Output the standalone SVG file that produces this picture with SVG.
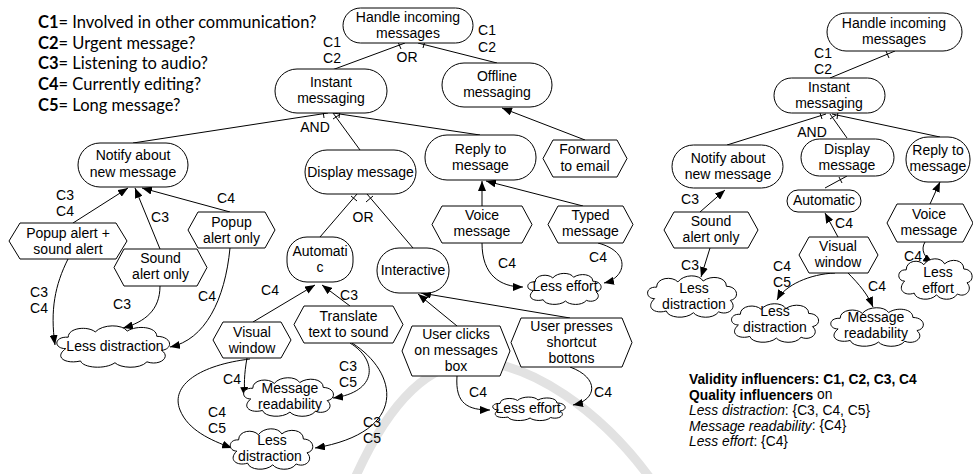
<svg xmlns="http://www.w3.org/2000/svg" xmlns:xlink="http://www.w3.org/1999/xlink" width="973" height="474" viewBox="0 0 973 474">
<style>
text{font-family:"Liberation Sans",Arial,sans-serif;font-size:14px;fill:#000;text-anchor:middle;dominant-baseline:central}
.leg{font-family:Lato,"Liberation Sans",sans-serif;font-size:16.5px;text-anchor:start}
.info{font-size:13.8px;text-anchor:start}
.goal{fill:#fff;stroke:#000;stroke-width:1}
.task{fill:#fff;stroke:#000;stroke-width:1}
.ln{fill:none;stroke:#000;stroke-width:1}
.ar{fill:none;stroke:#000;stroke-width:1;marker-end:url(#ah)}
.wm{fill:none;stroke:#e2e2e2;stroke-width:9;stroke-linecap:round}
</style>
<defs>
<marker id="ah" markerUnits="userSpaceOnUse" markerWidth="11" markerHeight="8" refX="10" refY="4" orient="auto"><path d="M0,0 L10,4 L0,8 Z" fill="#000"/></marker>
<symbol id="cloud" viewBox="0 0 100 50" preserveAspectRatio="none" overflow="visible">
<path vector-effect="non-scaling-stroke" d="M12,28 C2,28 2,14 14,15 C14,4 30,2 36,9 C42,0 58,0 62,8 C70,1 86,3 86,14 C98,14 100,28 90,30 C98,38 88,48 78,43 C72,52 56,50 52,44 C44,52 26,50 24,42 C12,46 2,38 12,28 Z" fill="#fff" stroke="#000" stroke-width="1"/>
</symbol>
</defs>
<rect width="973" height="474" fill="#fff"/>
<path class="wm" d="M355,478 C390,400 430,362 475,362 C530,362 600,410 650,478"/>

<g id="legend">
<text class="leg" x="38" y="22"><tspan font-weight="bold">C1</tspan>= Involved in other communication?</text>
<text class="leg" x="38" y="43"><tspan font-weight="bold">C2</tspan>= Urgent message?</text>
<text class="leg" x="38" y="63"><tspan font-weight="bold">C3</tspan>= Listening to audio?</text>
<text class="leg" x="38" y="84"><tspan font-weight="bold">C4</tspan>= Currently editing?</text>
<text class="leg" x="38" y="105"><tspan font-weight="bold">C5</tspan>= Long message?</text>
</g>

<g id="connectors">
<!-- left diagram -->
<line class="ln" x1="405" y1="43" x2="332" y2="70"/>
<line class="ln" x1="398" y1="42" x2="401" y2="49"/>
<line class="ln" x1="418" y1="43" x2="497" y2="63"/>
<line class="ln" x1="425" y1="41" x2="423" y2="48"/>
<line class="ar" x1="585" y1="140" x2="502" y2="108"/>
<line class="ln" x1="328" y1="113" x2="133" y2="143"/>
<line class="ln" x1="323" y1="111" x2="324" y2="118"/>
<line class="ln" x1="333" y1="113" x2="360" y2="150"/>
<line class="ln" x1="333" y1="119" x2="339" y2="115"/>
<line class="ln" x1="333" y1="113" x2="480" y2="135"/>
<line class="ln" x1="340" y1="111" x2="339" y2="118"/>
<line class="ln" x1="357" y1="194" x2="320" y2="237"/>
<line class="ln" x1="351" y1="196" x2="357" y2="201"/>
<line class="ln" x1="367" y1="194" x2="413" y2="248"/>
<line class="ln" x1="366" y1="202" x2="373" y2="196"/>
<line class="ar" x1="482" y1="206" x2="482" y2="181"/>
<line class="ar" x1="583" y1="206" x2="486" y2="181"/>
<path class="ar" d="M482,243 C482,275 500,287 523,287"/>
<path class="ar" d="M598,243 C632,252 626,278 604,283"/>
<line class="ar" x1="457" y1="326" x2="418" y2="294"/>
<line class="ar" x1="570" y1="318" x2="421" y2="293"/>
<path class="ar" d="M457,376 C455,404 468,410 490,410"/>
<path class="ar" d="M570,367 C600,378 597,400 573,405"/>
<line class="ar" x1="73" y1="223" x2="128" y2="188"/>
<line class="ar" x1="160" y1="249" x2="135" y2="188"/>
<line class="ar" x1="230" y1="212" x2="142" y2="188"/>
<path class="ar" d="M68,259 C55,285 50,310 55,345"/>
<path class="ar" d="M160,286 C160,310 145,322 123,328"/>
<path class="ar" d="M230,248 C225,300 205,340 170,347"/>
<line class="ar" x1="253" y1="322" x2="315" y2="285"/>
<line class="ar" x1="350" y1="306" x2="322" y2="285"/>
<path class="ar" d="M247,358 C244,375 244,385 245,397"/>
<path class="ar" d="M250,359 C200,365 170,385 180,410 C188,430 210,440 232,448"/>
<path class="ar" d="M350,343 C378,360 378,392 333,398"/>
<path class="ar" d="M352,343 C398,372 410,432 315,448"/>
<!-- right diagram -->
<line class="ln" x1="895" y1="51" x2="830" y2="78"/>
<line class="ln" x1="886" y1="51" x2="889" y2="58"/>
<line class="ln" x1="826" y1="114" x2="727" y2="145"/>
<line class="ln" x1="820" y1="113" x2="822" y2="119"/>
<line class="ln" x1="830" y1="114" x2="847" y2="138"/>
<line class="ln" x1="830" y1="119" x2="836" y2="115"/>
<line class="ln" x1="832" y1="114" x2="940" y2="137"/>
<line class="ln" x1="838" y1="112" x2="837" y2="119"/>
<line class="ln" x1="847" y1="176" x2="825" y2="188"/>
<line class="ln" x1="839" y1="177" x2="842" y2="183"/>
<line class="ar" x1="700" y1="212" x2="725" y2="190"/>
<line class="ar" x1="710" y1="248" x2="701" y2="277"/>
<line class="ar" x1="838" y1="237" x2="825" y2="213"/>
<path class="ar" d="M835,273 C810,274 785,285 777,300"/>
<path class="ar" d="M847,272 C860,285 868,295 873,307"/>
<line class="ar" x1="930" y1="204" x2="940" y2="182"/>
<path class="ar" d="M925,242 C920,250 925,258 933,263"/>
</g>

<g id="labels">
<text x="332" y="42">C1</text><text x="332" y="58">C2</text>
<text x="487" y="30">C1</text><text x="487" y="47">C2</text>
<text x="407" y="57">OR</text>
<text x="315" y="127">AND</text>
<text x="363" y="217">OR</text>
<text x="65" y="195">C3</text><text x="65" y="211">C4</text>
<text x="160" y="217">C3</text>
<text x="226" y="198">C4</text>
<text x="39" y="292">C3</text><text x="39" y="308">C4</text>
<text x="122" y="304">C3</text>
<text x="207" y="296">C4</text>
<text x="270" y="290">C4</text>
<text x="349" y="295">C3</text>
<text x="232" y="379">C4</text>
<text x="217" y="412">C4</text><text x="217" y="428">C5</text>
<text x="348" y="366">C3</text><text x="348" y="382">C5</text>
<text x="372" y="422">C3</text><text x="372" y="438">C5</text>
<text x="507" y="263">C4</text>
<text x="598" y="257">C4</text>
<text x="478" y="392">C4</text>
<text x="603" y="392">C4</text>
<text x="823" y="53">C1</text><text x="823" y="69">C2</text>
<text x="812" y="132">AND</text>
<text x="690" y="199">C3</text>
<text x="690" y="265">C3</text>
<text x="844" y="223">C4</text>
<text x="782" y="266">C4</text><text x="782" y="282">C5</text>
<text x="877" y="286">C4</text>
<text x="913" y="256">C4</text>
</g>

<!-- left diagram nodes -->
<g id="handle"><rect class="goal" x="343" y="8" width="130" height="35" rx="17.5"/><text x="408" y="17">Handle incoming</text><text x="408" y="33">messages</text></g>
<g id="instant"><rect class="goal" x="275" y="69" width="112" height="44" rx="22"/><text x="331" y="82">Instant</text><text x="331" y="98">messaging</text></g>
<g id="offline"><rect class="goal" x="442" y="63" width="110" height="44" rx="22"/><text x="497" y="76">Offline</text><text x="497" y="92">messaging</text></g>
<g id="forward"><polygon class="task" points="543,158.5 553,140 617,140 627,158.5 617,177 553,177"/><text x="585" y="149">Forward</text><text x="585" y="166">to email</text></g>
<g id="notify"><rect class="goal" x="78" y="143" width="110" height="44" rx="22"/><text x="133" y="155">Notify about</text><text x="133" y="172">new message</text></g>
<g id="display"><rect class="goal" x="305" y="150" width="111" height="44" rx="22"/><text x="360.5" y="172">Display message</text></g>
<g id="reply"><rect class="goal" x="425" y="135" width="111" height="45" rx="22"/><text x="480.5" y="149">Reply to</text><text x="480.5" y="165">message</text></g>
<g id="voice"><polygon class="task" points="432,224.5 442,206 522,206 532,224.5 522,243 442,243"/><text x="482" y="215">Voice</text><text x="482" y="231">message</text></g>
<g id="typed"><polygon class="task" points="548,224.5 558,206 623,206 633,224.5 623,243 558,243"/><text x="590.5" y="215">Typed</text><text x="590.5" y="231">message</text></g>
<g id="effort1"><use href="#cloud" x="524" y="272" width="80" height="33"/><text x="565" y="286">Less effort</text></g>
<g id="automatic"><rect class="goal" x="287" y="237" width="66" height="45" rx="20"/><text x="320" y="251">Automati</text><text x="320" y="267">c</text></g>
<g id="interactive"><rect class="goal" x="377" y="248" width="72" height="45" rx="22"/><text x="413" y="270">Interactive</text></g>
<g id="clicks"><polygon class="task" points="402,351 412,326 500,326 510,351 500,376 412,376"/><text x="456" y="334">User clicks</text><text x="456" y="350">on messages</text><text x="456" y="366">box</text></g>
<g id="presses"><polygon class="task" points="511,342.5 521,318 622,318 632,342.5 622,367 521,367"/><text x="571.5" y="326">User presses</text><text x="571.5" y="342">shortcut</text><text x="571.5" y="358">bottons</text></g>
<g id="effort2"><use href="#cloud" x="489" y="396" width="79" height="25"/><text x="528" y="408">Less effort</text></g>
<g id="popupsound"><polygon class="task" points="9,241 20,223 116,223 127,241 116,259 20,259"/><text x="68" y="233">Popup alert +</text><text x="68" y="249">sound alert</text></g>
<g id="soundonly"><polygon class="task" points="114,267.5 124,249 197,249 207,267.5 197,286 124,286"/><text x="160.5" y="258">Sound</text><text x="160.5" y="274">alert only</text></g>
<g id="popuponly"><polygon class="task" points="188,230 198,212 265,212 275,230 265,248 198,248"/><text x="231.5" y="222">Popup</text><text x="231.5" y="238">alert only</text></g>
<g id="lessd1"><use href="#cloud" x="51" y="324" width="123" height="44"/><text x="115" y="346">Less distraction</text></g>
<g id="visual1"><polygon class="task" points="213,340 223,322 281,322 291,340 281,358 223,358"/><text x="252" y="332">Visual</text><text x="252" y="348">window</text></g>
<g id="translate"><polygon class="task" points="294,324.5 304,306 393,306 403,324.5 393,343 304,343"/><text x="348.5" y="316">Translate</text><text x="348.5" y="332">text to sound</text></g>
<g id="readab1"><use href="#cloud" x="239" y="376" width="98" height="41"/><text x="290" y="388">Message</text><text x="290" y="404">readability</text></g>
<g id="lessd2"><use href="#cloud" x="226" y="427" width="90" height="43"/><text x="272" y="440">Less</text><text x="270" y="456">distraction</text></g>

<!-- right diagram nodes -->
<g id="r-handle"><rect class="goal" x="827" y="13" width="135" height="38" rx="19"/><text x="894" y="23">Handle incoming</text><text x="894" y="39">messages</text></g>
<g id="r-instant"><rect class="goal" x="774" y="78" width="111" height="35" rx="17.5"/><text x="829" y="87">Instant</text><text x="829" y="103">messaging</text></g>
<g id="r-notify"><rect class="goal" x="672" y="145" width="111" height="43" rx="21.5"/><text x="728" y="158">Notify about</text><text x="728" y="174">new message</text></g>
<g id="r-display"><rect class="goal" x="801" y="139" width="93" height="37" rx="18.5"/><text x="847" y="149">Display</text><text x="847" y="165">message</text></g>
<g id="r-reply"><rect class="goal" x="906" y="137" width="64" height="45" rx="22"/><text x="938" y="150">Reply to</text><text x="938" y="166">message</text></g>
<g id="r-automatic"><rect class="goal" x="787" y="190" width="74" height="22" rx="11"/><text x="824" y="200">Automatic</text></g>
<g id="r-sound"><polygon class="task" points="664,230 674,212 748,212 758,230 748,248 674,248"/><text x="711" y="221">Sound</text><text x="711" y="237">alert only</text></g>
<g id="r-lessd1"><use href="#cloud" x="643" y="274" width="97" height="44"/><text x="694" y="288">Less</text><text x="694" y="304">distraction</text></g>
<g id="r-visual"><polygon class="task" points="799,255 809,237 868,237 878,255 868,273 809,273"/><text x="838" y="246">Visual</text><text x="838" y="262">window</text></g>
<g id="r-lessd2"><use href="#cloud" x="727" y="302" width="95" height="41"/><text x="775" y="311">Less</text><text x="775" y="327">distraction</text></g>
<g id="r-readab"><use href="#cloud" x="826" y="306" width="101" height="41"/><text x="876" y="317">Message</text><text x="876" y="333">readability</text></g>
<g id="r-voice"><polygon class="task" points="887,223 897,204 963,204 973,223 963,242 897,242"/><text x="929" y="214">Voice</text><text x="929" y="230">message</text></g>
<g id="r-effort"><use href="#cloud" x="895" y="257" width="80" height="43"/><text x="938" y="272">Less</text><text x="938" y="288">effort</text></g>

<g id="info">
<text class="info" x="689" y="379" font-weight="bold">Validity influencers: C1, C2, C3, C4</text>
<text class="info" x="689" y="394.5"><tspan font-weight="bold">Quality influencers</tspan> on</text>
<text class="info" x="689" y="410"><tspan font-style="italic">Less distraction</tspan>: {C3, C4, C5}</text>
<text class="info" x="689" y="425.5"><tspan font-style="italic">Message readability</tspan>: {C4}</text>
<text class="info" x="689" y="441"><tspan font-style="italic">Less effort</tspan>: {C4}</text>
</g>
</svg>
